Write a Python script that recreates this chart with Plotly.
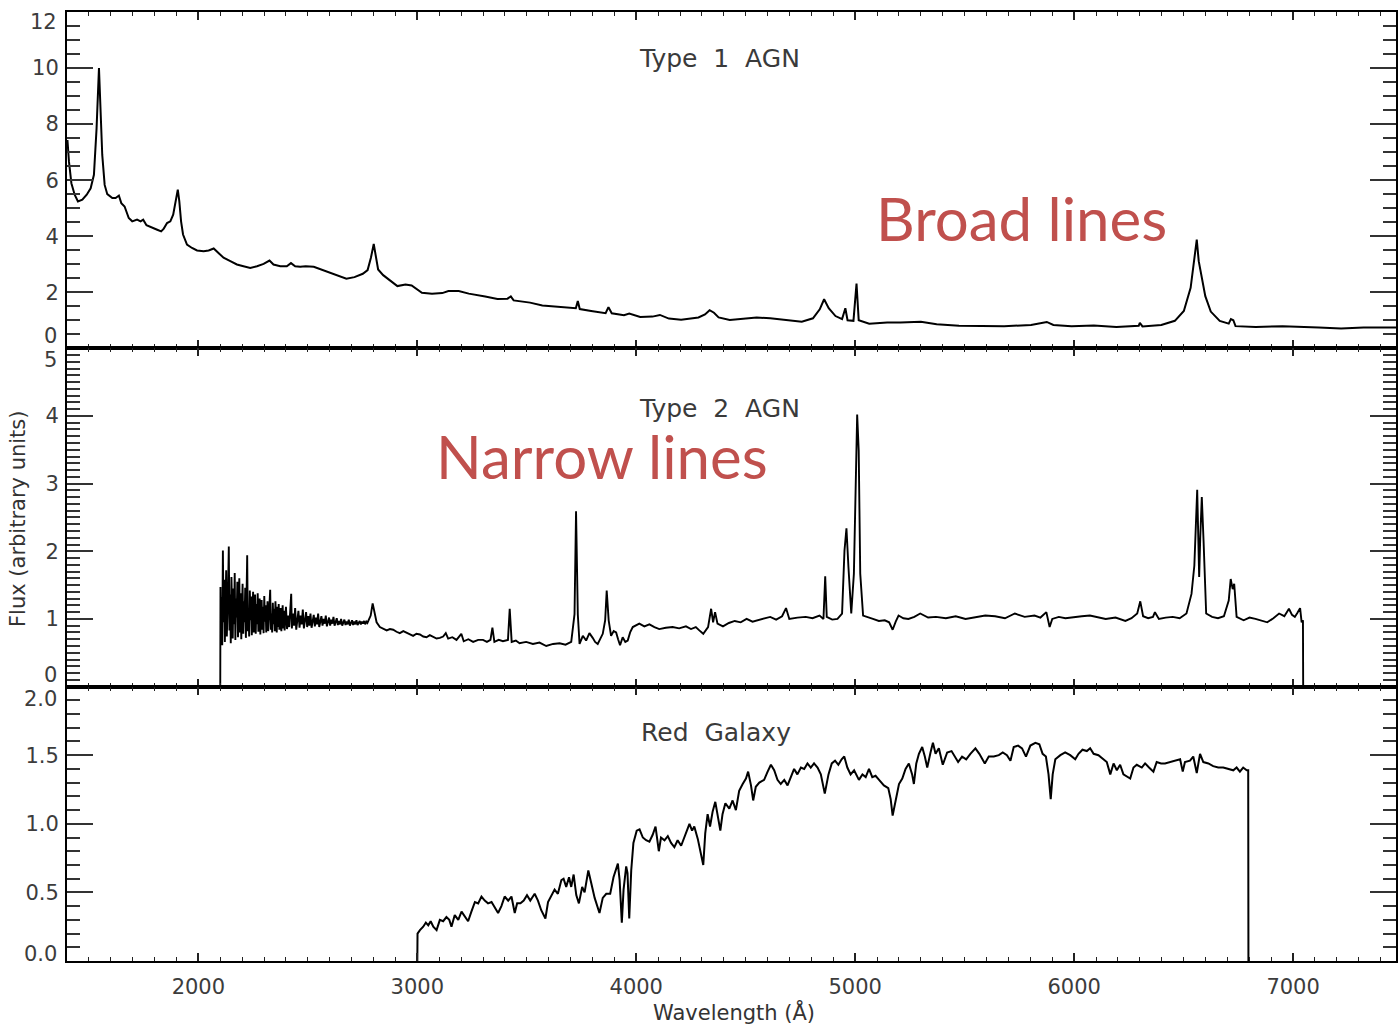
import plotly.graph_objects as go

# ---------------- data ----------------
type1_wl = [1402, 1409, 1420, 1435, 1450, 1470, 1490, 1508, 1523, 1535, 1546, 1553, 1561, 1572, 1584,
            1607, 1622, 1637, 1648, 1663, 1682, 1698, 1720, 1736, 1748, 1763, 1789, 1812, 1830, 1842,
            1857, 1872, 1885, 1895, 1906, 1913, 1921, 1930, 1948, 1971, 1994, 2024, 2047, 2070, 2093,
            2115, 2146, 2176, 2206, 2237, 2268, 2298, 2325, 2343, 2374, 2404, 2423, 2442, 2465, 2490,
            2527, 2564, 2611, 2639, 2676, 2713, 2751, 2773, 2788, 2801, 2810, 2821, 2844, 2881, 2909,
            2946, 2974, 3021, 3067, 3114, 3142, 3189, 3235, 3310, 3366, 3412, 3427, 3440, 3515, 3571,
            3645, 3724, 3733, 3742, 3794, 3860, 3873, 3888, 3944, 3968, 4018, 4074, 4108, 4149, 4205,
            4242, 4284, 4314, 4335, 4355, 4376, 4427, 4489, 4550, 4612, 4684, 4756, 4807, 4838, 4858,
            4879, 4910, 4940, 4955, 4965, 4992, 5006, 5016, 5064, 5146, 5207, 5300, 5372, 5474, 5577,
            5680, 5803, 5875, 5905, 5988, 6090, 6193, 6295, 6300, 6312, 6398, 6460, 6501, 6532, 6548,
            6560, 6569, 6577, 6585, 6599, 6624, 6665, 6706, 6716, 6727, 6737, 6829, 6952, 7117, 7219,
            7322, 7461, 7470]
type1_flux = [7.43, 6.66, 5.89, 5.48, 5.24, 5.30, 5.48, 5.71, 6.19, 7.84, 10.0, 8.79, 6.9, 5.83, 5.5,
              5.36, 5.36, 5.45, 5.18, 5.06, 4.65, 4.53, 4.59, 4.53, 4.59, 4.39, 4.29, 4.23, 4.17, 4.27,
              4.47, 4.53, 4.77, 5.24, 5.66, 5.24, 4.53, 4.06, 3.70, 3.58, 3.49, 3.46, 3.49, 3.56, 3.40,
              3.23, 3.11, 2.99, 2.93, 2.87, 2.93, 3.01, 3.13, 2.99, 2.93, 2.93, 3.04, 2.93, 2.91, 2.93,
              2.91, 2.81, 2.66, 2.58, 2.48, 2.54, 2.66, 2.79, 3.23, 3.72, 3.23, 2.81, 2.61, 2.40, 2.22,
              2.28, 2.24, 1.98, 1.95, 1.97, 2.04, 2.04, 1.95, 1.85, 1.76, 1.77, 1.85, 1.71, 1.63, 1.53,
              1.49, 1.43, 1.69, 1.40, 1.33, 1.25, 1.47, 1.25, 1.18, 1.24, 1.12, 1.13, 1.19, 1.06, 1.02,
              1.06, 1.10, 1.21, 1.36, 1.27, 1.10, 1.01, 1.06, 1.10, 1.07, 1.00, 0.95, 1.07, 1.39, 1.75,
              1.43, 1.15, 1.04, 1.43, 1.00, 0.98, 2.31, 1.00, 0.88, 0.92, 0.92, 0.95, 0.86, 0.80, 0.79,
              0.79, 0.83, 0.94, 0.83, 0.79, 0.81, 0.76, 0.80, 0.91, 0.78, 0.83, 0.98, 1.33, 2.16, 3.11,
              3.88, 3.11, 2.75, 2.52, 1.86, 1.31, 0.98, 0.88, 1.04, 1.00, 0.79, 0.76, 0.79, 0.74, 0.71,
              0.74, 0.74, 0.74]

# Type 2: noisy blue end (2100-2780 A)
type2_blue_wl = [2100, 2101, 2103, 2106, 2109, 2112, 2115, 2118, 2121, 2124, 2127, 2130, 2133, 2136, 2139,
                 2142, 2145, 2148, 2151, 2154, 2157, 2160, 2163, 2166, 2169, 2172, 2175, 2178, 2181, 2184,
                 2187, 2190, 2193, 2196, 2199, 2202, 2205, 2208, 2211, 2214, 2217, 2220, 2223, 2226, 2229,
                 2232, 2235, 2238, 2241, 2244, 2247, 2250, 2253, 2256, 2259, 2262, 2265, 2268, 2271, 2274,
                 2277, 2280, 2283, 2286, 2289, 2292, 2295, 2298, 2301, 2304, 2307, 2310, 2313, 2316, 2319,
                 2322, 2325, 2328, 2331, 2334, 2337, 2340, 2343, 2346, 2349, 2352, 2355, 2358, 2361, 2364,
                 2367, 2370, 2373, 2376, 2379, 2382, 2385, 2388, 2391, 2394, 2397, 2400, 2405, 2410, 2415,
                 2420, 2424, 2427, 2432, 2437, 2442, 2447, 2452, 2457, 2462, 2467, 2472, 2477, 2482, 2487,
                 2492, 2497, 2502, 2507, 2512, 2517, 2522, 2527, 2532, 2537, 2542, 2547, 2552, 2557, 2562,
                 2567, 2572, 2577, 2582, 2587, 2592, 2597, 2602, 2607, 2612, 2617, 2622, 2627, 2632, 2637,
                 2642, 2647, 2652, 2657, 2662, 2667, 2672, 2677, 2682, 2687, 2692, 2697, 2702, 2707, 2712,
                 2717, 2722, 2727, 2732, 2737, 2742, 2747, 2752, 2757, 2762, 2767, 2772, 2777]
type2_blue_flux = [0.0, 1.47, 0.72, 1.32, 0.61, 2.01, 0.95, 1.58, 0.66, 1.21, 1.72, 0.74, 1.05, 1.48, 2.07,
                   0.83, 1.36, 0.64, 1.62, 1.12, 0.71, 1.45, 0.92, 1.68, 0.69, 1.30, 1.02, 1.55, 0.73, 1.18,
                   1.60, 0.80, 1.38, 0.70, 1.10, 1.52, 0.78, 1.26, 0.95, 1.46, 0.72, 1.30, 1.94, 0.82, 1.16,
                   0.74, 1.42, 0.98, 1.33, 0.76, 1.20, 1.40, 0.80, 1.08, 1.36, 0.78, 1.22, 0.92, 1.38, 0.81,
                   1.12, 1.30, 0.77, 1.04, 1.28, 0.84, 1.18, 0.79, 1.34, 0.96, 1.20, 0.80, 1.10, 1.26, 0.82,
                   1.02, 1.22, 1.43, 0.84, 1.08, 0.80, 1.24, 0.92, 1.15, 0.82, 1.26, 0.98, 0.80, 1.18, 0.88,
                   1.22, 0.84, 1.06, 1.16, 0.82, 1.02, 1.20, 0.86, 1.12, 0.83, 1.08, 1.18, 0.85, 1.05, 0.88,
                   1.14, 1.37, 0.86, 1.08, 0.90, 1.16, 0.84, 1.02, 1.12, 0.87, 1.05, 0.92, 1.14, 0.86, 1.00,
                   1.10, 0.88, 1.04, 0.90, 1.08, 0.87, 0.98, 1.06, 0.89, 1.02, 0.92, 1.08, 0.88, 0.97, 1.04,
                   0.90, 1.00, 0.93, 1.05, 0.89, 0.96, 1.02, 0.90, 0.99, 0.93, 1.03, 0.90, 0.96, 1.01, 0.91,
                   0.97, 0.92, 1.00, 0.90, 0.95, 0.99, 0.91, 0.96, 0.92, 0.99, 0.90, 0.95, 0.98, 0.91, 0.96,
                   0.92, 0.98, 0.91, 0.95, 0.97, 0.92, 0.96, 0.93, 0.97, 0.92, 0.96, 0.94, 0.97]

# Type 2: rest of the spectrum
type2_red_wl = [2787, 2796, 2803, 2814, 2829, 2845, 2860, 2875, 2890, 2905, 2920, 2936, 2951, 2966, 2981,
                2996, 3012, 3027, 3042, 3057, 3072, 3088, 3103, 3118, 3130, 3141, 3160, 3179, 3201, 3212,
                3233, 3255, 3278, 3300, 3318, 3334, 3343, 3352, 3372, 3391, 3414, 3422, 3431, 3450, 3467,
                3497, 3528, 3558, 3589, 3620, 3650, 3677, 3703, 3718, 3725, 3733, 3741, 3756, 3771, 3786,
                3801, 3812, 3824, 3836, 3847, 3858, 3865, 3874, 3885, 3897, 3908, 3917, 3926, 3938, 3950,
                3961, 3972, 3984, 3999, 4014, 4037, 4060, 4083, 4105, 4135, 4166, 4196, 4227, 4250, 4272,
                4288, 4306, 4328, 4342, 4351, 4360, 4371, 4396, 4423, 4450, 4477, 4504, 4531, 4558, 4585,
                4612, 4639, 4666, 4684, 4699, 4736, 4774, 4805, 4837, 4855, 4863, 4870, 4895, 4919, 4940,
                4951, 4960, 4969, 4982, 4994, 5003, 5009, 5016, 5023, 5036, 5058, 5081, 5108, 5135, 5155,
                5171, 5185, 5198, 5220, 5243, 5270, 5297, 5333, 5369, 5414, 5459, 5504, 5549, 5594, 5639,
                5684, 5729, 5774, 5819, 5846, 5873, 5888, 5900, 5930, 5960, 5999, 6035, 6072, 6108, 6144,
                6189, 6234, 6262, 6288, 6302, 6315, 6338, 6360, 6369, 6387, 6418, 6450, 6482, 6513, 6536,
                6549, 6562, 6571, 6576, 6583, 6591, 6603, 6630, 6657, 6684, 6706, 6715, 6724, 6731, 6742,
                6774, 6801, 6828, 6855, 6882, 6910, 6936, 6960, 6981, 6995, 7008, 7020, 7032, 7039, 7045,
                7046]
type2_red_flux = [1.05, 1.23, 1.10, 0.95, 0.88, 0.86, 0.83, 0.85, 0.84, 0.81, 0.79, 0.82, 0.80, 0.77, 0.75,
                  0.78, 0.77, 0.74, 0.73, 0.76, 0.74, 0.71, 0.72, 0.74, 0.79, 0.71, 0.73, 0.69, 0.78, 0.67,
                  0.70, 0.66, 0.69, 0.69, 0.66, 0.69, 0.87, 0.66, 0.69, 0.67, 0.69, 1.15, 0.66, 0.68, 0.64,
                  0.66, 0.63, 0.65, 0.60, 0.63, 0.64, 0.62, 0.66, 1.07, 2.59, 1.07, 0.63, 0.75, 0.68, 0.79,
                  0.72, 0.66, 0.63, 0.72, 0.78, 0.98, 1.42, 0.98, 0.75, 0.82, 0.80, 0.70, 0.61, 0.73, 0.66,
                  0.68, 0.80, 0.88, 0.91, 0.93, 0.89, 0.92, 0.88, 0.85, 0.87, 0.88, 0.86, 0.89, 0.85, 0.88,
                  0.83, 0.78, 0.88, 1.15, 0.95, 1.10, 0.93, 0.89, 0.94, 0.97, 0.95, 1.00, 0.96, 0.98, 1.01,
                  1.03, 0.99, 1.04, 1.16, 1.00, 1.02, 1.03, 1.01, 1.05, 1.00, 1.63, 1.03, 0.99, 1.00, 1.08,
                  2.01, 2.34, 1.77, 1.08, 1.67, 3.49, 4.02, 3.49, 1.67, 1.05, 1.02, 1.00, 0.97, 0.98, 0.95,
                  0.84, 0.96, 1.05, 1.01, 1.00, 1.03, 1.08, 1.02, 1.03, 1.01, 1.04, 1.00, 1.02, 1.05, 1.04,
                  1.01, 1.08, 1.03, 1.05, 1.02, 1.10, 0.88, 1.00, 1.03, 1.01, 1.02, 1.04, 1.05, 1.02, 1.00,
                  1.02, 0.97, 1.01, 1.08, 1.26, 1.04, 1.01, 1.03, 1.10, 1.00, 1.02, 1.03, 1.01, 1.08, 1.37,
                  1.79, 2.91, 1.62, 2.21, 2.80, 2.16, 1.08, 1.03, 1.01, 1.04, 1.27, 1.59, 1.44, 1.52, 1.03,
                  0.98, 1.02, 1.00, 0.97, 0.95, 1.01, 1.08, 1.04, 1.15, 1.06, 1.03, 1.09, 1.16, 0.95, 0.98,
                  0.0]

red_wl = [3000, 3001, 3012, 3027, 3039, 3050, 3061, 3073, 3088, 3103, 3118, 3133, 3146, 3156, 3171,
          3187, 3202, 3217, 3232, 3247, 3263, 3278, 3293, 3308, 3323, 3339, 3354, 3369, 3384, 3399,
          3415, 3430, 3445, 3456, 3471, 3486, 3501, 3516, 3536, 3551, 3566, 3585, 3597, 3612, 3627,
          3642, 3658, 3668, 3680, 3693, 3703, 3714, 3726, 3738, 3753, 3764, 3781, 3794, 3810, 3832,
          3847, 3863, 3881, 3896, 3916, 3924, 3934, 3942, 3954, 3960, 3968, 3977, 3987, 4002, 4015,
          4030, 4045, 4060, 4075, 4088, 4103, 4113, 4129, 4144, 4159, 4174, 4189, 4205, 4220, 4230,
          4243, 4255, 4265, 4281, 4296, 4306, 4315, 4326, 4337, 4349, 4361, 4372, 4384, 4394, 4407,
          4425, 4440, 4455, 4470, 4486, 4501, 4511, 4524, 4534, 4546, 4562, 4584, 4600, 4615, 4630,
          4645, 4660, 4676, 4691, 4706, 4721, 4736, 4752, 4767, 4782, 4797, 4812, 4828, 4843, 4861,
          4878, 4893, 4908, 4923, 4938, 4950, 4964, 4979, 4995, 5017, 5033, 5048, 5063, 5078, 5093,
          5109, 5131, 5151, 5162, 5171, 5185, 5200, 5215, 5230, 5245, 5260, 5268, 5279, 5291, 5306,
          5318, 5329, 5344, 5355, 5367, 5382, 5400, 5420, 5440, 5455, 5470, 5488, 5507, 5526, 5549,
          5567, 5592, 5610, 5633, 5656, 5674, 5693, 5709, 5724, 5744, 5762, 5780, 5800, 5823, 5841,
          5856, 5871, 5883, 5893, 5902, 5914, 5937, 5959, 5982, 6005, 6020, 6038, 6058, 6073, 6089,
          6111, 6134, 6149, 6165, 6180, 6195, 6210, 6225, 6245, 6256, 6271, 6286, 6309, 6324, 6342,
          6362, 6377, 6397, 6415, 6438, 6461, 6484, 6496, 6506, 6529, 6544, 6560, 6575, 6590, 6613,
          6635, 6658, 6681, 6704, 6727, 6742, 6757, 6772, 6788, 6795, 6796]
red_flux = [0.0, 0.20, 0.225, 0.25, 0.28, 0.26, 0.29, 0.25, 0.225, 0.30, 0.29, 0.32, 0.30, 0.25, 0.335,
            0.30, 0.36, 0.32, 0.29, 0.36, 0.43, 0.42, 0.47, 0.44, 0.42, 0.43, 0.39, 0.35, 0.40, 0.47,
            0.44, 0.47, 0.35, 0.42, 0.42, 0.44, 0.48, 0.44, 0.49, 0.44, 0.37, 0.31, 0.43, 0.47, 0.52,
            0.49, 0.59, 0.60, 0.54, 0.61, 0.54, 0.63, 0.48, 0.42, 0.54, 0.50, 0.66, 0.57, 0.46, 0.35,
            0.46, 0.49, 0.49, 0.61, 0.71, 0.59, 0.28, 0.52, 0.69, 0.64, 0.31, 0.66, 0.86, 0.95, 0.96,
            0.90, 0.88, 0.87, 0.92, 0.98, 0.80, 0.90, 0.88, 0.91, 0.86, 0.83, 0.88, 0.84, 0.90, 0.95,
            1.00, 0.95, 0.98, 0.89, 0.76, 0.70, 0.93, 1.07, 0.98, 1.09, 1.16, 1.05, 0.95, 1.07, 1.15,
            1.11, 1.17, 1.10, 1.24, 1.29, 1.33, 1.38, 1.28, 1.17, 1.27, 1.30, 1.32, 1.38, 1.43, 1.39,
            1.32, 1.29, 1.32, 1.28, 1.34, 1.40, 1.36, 1.41, 1.40, 1.44, 1.41, 1.44, 1.41, 1.36, 1.22,
            1.36, 1.44, 1.46, 1.43, 1.47, 1.49, 1.41, 1.36, 1.39, 1.32, 1.36, 1.34, 1.40, 1.34, 1.35,
            1.32, 1.28, 1.26, 1.18, 1.06, 1.17, 1.29, 1.33, 1.40, 1.44, 1.36, 1.29, 1.44, 1.51, 1.56,
            1.49, 1.41, 1.52, 1.59, 1.51, 1.55, 1.43, 1.52, 1.53, 1.49, 1.45, 1.49, 1.47, 1.51, 1.55,
            1.51, 1.44, 1.49, 1.49, 1.50, 1.52, 1.50, 1.46, 1.56, 1.57, 1.55, 1.49, 1.57, 1.59, 1.58,
            1.51, 1.49, 1.36, 1.18, 1.36, 1.47, 1.50, 1.52, 1.50, 1.47, 1.51, 1.54, 1.53, 1.55, 1.51,
            1.50, 1.47, 1.45, 1.36, 1.44, 1.39, 1.43, 1.36, 1.34, 1.33, 1.41, 1.43, 1.41, 1.44, 1.41,
            1.38, 1.45, 1.44, 1.44, 1.45, 1.46, 1.47, 1.38, 1.45, 1.46, 1.49, 1.37, 1.51, 1.45, 1.44,
            1.42, 1.41, 1.41, 1.40, 1.39, 1.41, 1.38, 1.41, 1.39, 1.39, 0.0]

panel_titles = ["Type\u00a0\u00a01\u00a0\u00a0AGN", "Type\u00a0\u00a02\u00a0\u00a0AGN", "Red\u00a0\u00a0Galaxy"]
callouts = ["Broad lines", "Narrow lines"]
x_ticks = [2000, 3000, 4000, 5000, 6000, 7000]

type2_wl = type2_blue_wl + type2_red_wl
type2_flux = type2_blue_flux + type2_red_flux
assert len(type1_wl) == len(type1_flux)
assert len(type2_wl) == len(type2_flux)
assert len(red_wl) == len(red_flux)

# ---------------- layout geometry (pixels) ----------------
W, H = 1398, 1025
L, R, T, B = 67, 1398, 10, 961
SPLIT1, SPLIT2 = 347, 686


def fx(p):
    return (p - L) / (R - L)


def fy(p):
    return (B - p) / (B - T)


TXT = "#3c3c3c"
FONT = "DejaVu Sans"

fig = go.Figure()
fig.add_trace(go.Scatter(x=type1_wl, y=type1_flux, mode="lines",
                         line=dict(color="black", width=2), xaxis="x", yaxis="y", showlegend=False))
fig.add_trace(go.Scatter(x=type2_wl, y=type2_flux, mode="lines",
                         line=dict(color="black", width=1.9), xaxis="x2", yaxis="y2", showlegend=False))
fig.add_trace(go.Scatter(x=red_wl, y=red_flux, mode="lines",
                         line=dict(color="black", width=2), xaxis="x3", yaxis="y3", showlegend=False))

xcommon = dict(range=[1400, 7470], tickmode="array", tickvals=x_ticks,
               ticks="inside", ticklen=8, tickwidth=1.5, tickcolor="#222",
               minor=dict(dtick=100, tick0=0, ticks="inside", ticklen=4, tickwidth=1.2, tickcolor="#222"),
               showline=True, linewidth=2, linecolor="black", mirror="allticks",
               showgrid=False, zeroline=False, ticklabelstandoff=6,
               tickfont=dict(family=FONT, size=21, color=TXT))

ycommon = dict(ticks="inside", ticklen=26, tickwidth=2, tickcolor="#333",
               showline=True, linewidth=2, linecolor="black", mirror="allticks",
               showgrid=False, zeroline=False, ticklabelstandoff=2,
               tickfont=dict(family=FONT, size=21, color=TXT))

fig.update_layout(
    width=W, height=H,
    margin=dict(l=L, r=W - R, t=T, b=H - B),
    paper_bgcolor="white", plot_bgcolor="white",
    xaxis=dict(xcommon, anchor="y", domain=[0, 1], showticklabels=False),
    xaxis2=dict(xcommon, anchor="y2", domain=[0, 1], showticklabels=False, matches="x"),
    xaxis3=dict(xcommon, anchor="y3", domain=[0, 1], showticklabels=True, matches="x"),
    yaxis=dict(ycommon, anchor="x", domain=[fy(SPLIT1), 1], range=[0, 12], tick0=0, dtick=2,
               minor=dict(dtick=0.5, tick0=0, ticks="inside", ticklen=13, tickwidth=2, tickcolor="#333"),
               labelalias={"0": " ", "12": " "}),
    yaxis2=dict(ycommon, anchor="x2", domain=[fy(SPLIT2), fy(SPLIT1)], range=[0, 5], tick0=0, dtick=1,
                minor=dict(dtick=0.1, tick0=0, ticks="inside", ticklen=13, tickwidth=2, tickcolor="#333"),
                labelalias={"0": " ", "5": " "}),
    yaxis3=dict(ycommon, anchor="x3", domain=[0, fy(SPLIT2)], range=[0, 2], tick0=0, dtick=0.5,
                tickformat=".1f",
                minor=dict(dtick=0.1, tick0=0, ticks="inside", ticklen=13, tickwidth=2, tickcolor="#333"),
                labelalias={"0.0": " ", "2.0": " "}),
)

ann = []
# shifted end labels of each y axis (kept clear of each other at the panel joins)
for txt, yref, yv, shift in [("12", "y", 12, -10), ("0", "y", 0, 12),
                             ("5", "y2", 5, -12), ("0", "y2", 0, 12),
                             ("2.0", "y3", 2.0, -12), ("0.0", "y3", 0.0, 7)]:
    ann.append(dict(text=txt, xref="paper", x=0, xanchor="right", xshift=-8,
                    yref=yref, y=yv, yanchor="middle", yshift=shift, showarrow=False,
                    font=dict(family=FONT, size=21, color=TXT)))

# panel titles
for txt, (cx, cy) in zip(panel_titles, [(720, 57), (720, 407), (717, 732)]):
    ann.append(dict(text=txt, xref="paper", yref="paper", x=fx(cx), y=fy(cy),
                    xanchor="center", yanchor="middle", showarrow=False,
                    font=dict(family=FONT, size=25, color="#3a3a3a")))

# red call-outs
for txt, (cx, cy) in zip(callouts, [(1023, 216), (603, 455)]):
    ann.append(dict(text=txt, xref="paper", yref="paper", x=fx(cx), y=fy(cy),
                    xanchor="center", yanchor="middle", showarrow=False,
                    font=dict(family="Lato", size=60, color="#C0504D")))

# axis titles
ann.append(dict(text="Flux\u00a0(arbitrary\u00a0units)", xref="paper", yref="paper",
                x=fx(18), y=fy(518), xanchor="center", yanchor="middle", textangle=-90,
                showarrow=False, font=dict(family=FONT, size=21, color="#333")))
ann.append(dict(text="Wavelength\u00a0(Å)", xref="paper", yref="paper",
                x=fx(735), y=fy(1012), xanchor="center", yanchor="middle",
                showarrow=False, font=dict(family=FONT, size=21, color="#333")))

fig.update_layout(annotations=ann)

fig.write_html("out.html")
